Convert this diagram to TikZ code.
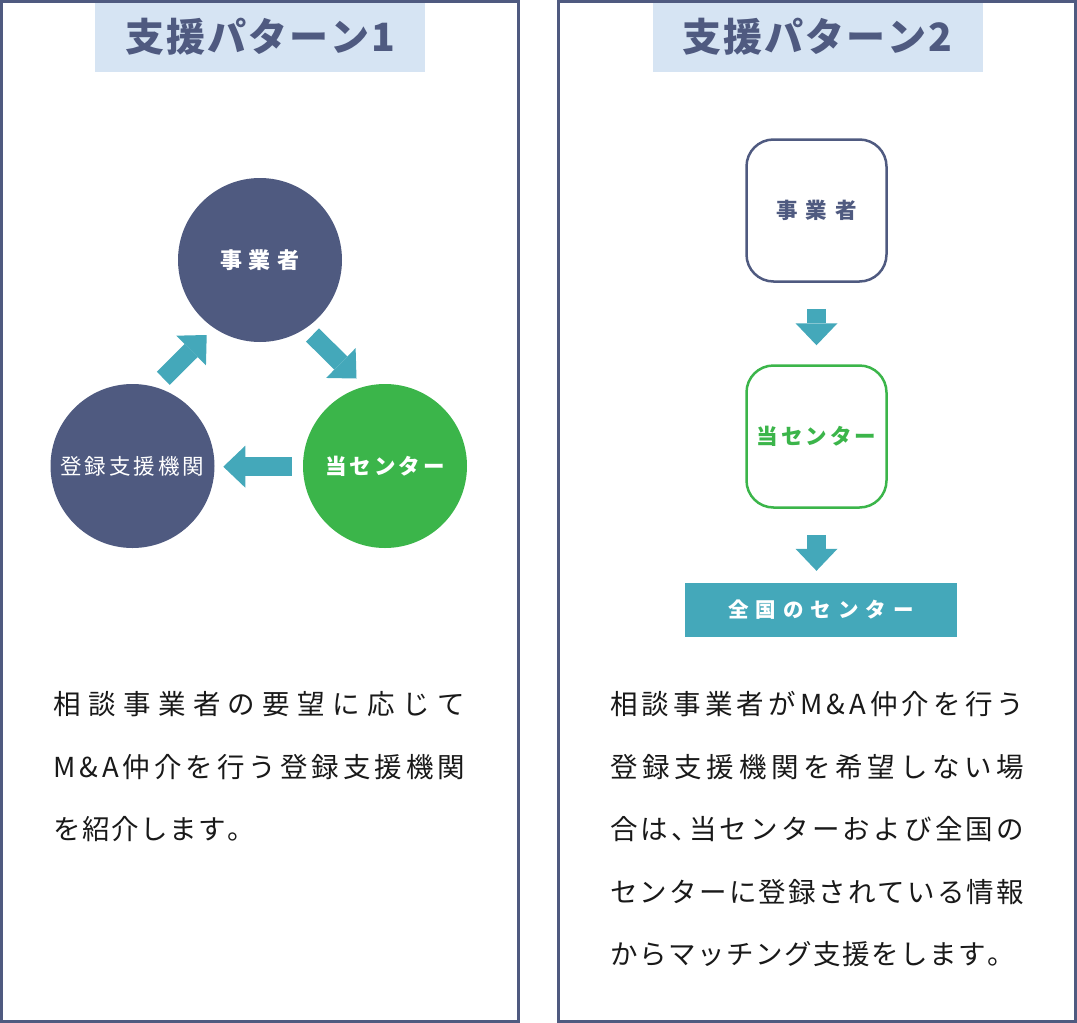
\documentclass[tikz,border=0pt]{standalone}
\usepackage{fontspec}
\setmainfont{Noto Sans CJK JP}
\usetikzlibrary{arrows.meta}
\definecolor{panelnavy}{HTML}{4F5A80}
\definecolor{titleblue}{HTML}{D6E4F3}
\definecolor{arrowteal}{HTML}{44A8BA}
\definecolor{centergreen}{HTML}{3BB54A}
\makeatletter
\newcommand\spaced[2]{\def\spc@sep{#1}\spc@loop#2\relax\relax}
\def\spc@loop#1#2{#1\ifx#2\relax\else\spc@sep\expandafter\spc@loop\expandafter#2\fi}
\makeatother
\newcommand\justline[2]{\makebox[#1][s]{\spaced{\hfil}{#2}}}
\newcommand\halfcomma{\makebox[14pt][l]{、}}
\begin{document}
\begin{tikzpicture}[x=1pt,y=-1pt,
  panel/.style={draw=panelnavy,line width=3pt},
  titlebox/.style={fill=titleblue,minimum width=330pt,minimum height=69pt,inner sep=0pt,
    text=panelnavy,font=\fontsize{39}{40}\selectfont\bfseries},
  bigdisc/.style={circle,minimum size=164pt,inner sep=0pt,text=white,font=\fontsize{21.5}{22}\selectfont},
  roundbox/.style={rectangle,rounded corners=27pt,line width=2.5pt,minimum width=140pt,
    minimum height=142pt,inner sep=0pt,font=\fontsize{21.5}{22}\selectfont\bfseries},
  fatarrow/.style={draw=arrowteal,line width=18.5pt,-{Triangle[length=22pt,width=42pt,line width=0pt]}},
  bodytext/.style={anchor=west,inner sep=0pt,text=black!90,font=\fontsize{27.5}{30}\selectfont}]
\useasboundingbox (0,0) rectangle (1077,1023);

% pattern 1
\node[titlebox] (title1) at (260,37) {\spaced{\kern2pt}{支援パターン1}};
\draw[panel] (1.5,1.5) rectangle (518.3,1021.5);
\node[bigdisc,fill=panelnavy,font=\fontsize{22}{22}\selectfont\bfseries] (jig1) at (260,260) {\spaced{\kern6.5pt}{事業者}};
\node[bigdisc,fill=panelnavy] (reg1) at (132.5,466) {\spaced{\kern3pt}{登録支援機関}};
\node[bigdisc,fill=centergreen,font=\fontsize{21.5}{22}\selectfont\bfseries] (ctr1) at (385,466) {\spaced{\kern3pt}{当センター}};
\coordinate (a1s) at (312.5,335);
\coordinate (a1e) at (356.5,378.5);
\coordinate (a2s) at (291.7,466.7);
\coordinate (a2e) at (223.3,466.7);
\coordinate (a3s) at (163.3,378.3);
\coordinate (a3e) at (206.7,335);
\draw[fatarrow] (a1s) -- (a1e);
\draw[fatarrow] (a2s) -- (a2e);
\draw[fatarrow] (a3s) -- (a3e);
\node[bodytext] (txt1a) at (53,704.5) {\justline{412pt}{相談事業者の要望に応じて}};
\node[bodytext] (txt1b) at (53,767) {\justline{412pt}{M\&A仲介を行う登録支援機関}};
\node[bodytext] (txt1c) at (53,829.5) {\spaced{\kern1.5pt}{を紹介します。}};

% pattern 2
\node[titlebox] (title2) at (817.5,37) {\spaced{\kern2pt}{支援パターン2}};
\draw[panel] (558.3,1.5) rectangle (1075.5,1021.5);
\node[roundbox,draw=panelnavy,text=panelnavy] (jig2) at (816.5,210.5) {\spaced{\kern8pt}{事業者}};
\node[roundbox,draw=centergreen,text=centergreen] (ctr2) at (816.5,436.5) {\spaced{\kern3pt}{当センター}};
\node[fill=arrowteal,minimum width=272pt,minimum height=54pt,inner sep=0pt,text=white,
  font=\fontsize{20.5}{21}\selectfont\bfseries] (nat2) at (821,610) {\spaced{\kern7pt}{全国のセンター}};
\draw[fatarrow,shorten <=26pt,shorten >=19pt] (jig2) -- (ctr2);
\draw[fatarrow,shorten <=26pt,shorten >=12pt] (ctr2.south) -- (ctr2.south |- nat2.north);
\node[bodytext] (txt2a) at (610,704.5) {\justline{414pt}{相談事業者がM\&A仲介を行う}};
\node[bodytext] (txt2b) at (610,767) {\justline{414pt}{登録支援機関を希望しない場}};
\node[bodytext] (txt2c) at (610,829.5) {\justline{414pt}{合は\halfcomma 当センターおよび全国の}};
\node[bodytext] (txt2d) at (610,892) {\justline{414pt}{センターに登録されている情報}};
\node[bodytext] (txt2e) at (610,954.5) {\spaced{\kern1.5pt}{からマッチング支援をします。}};
\end{tikzpicture}
\end{document}
